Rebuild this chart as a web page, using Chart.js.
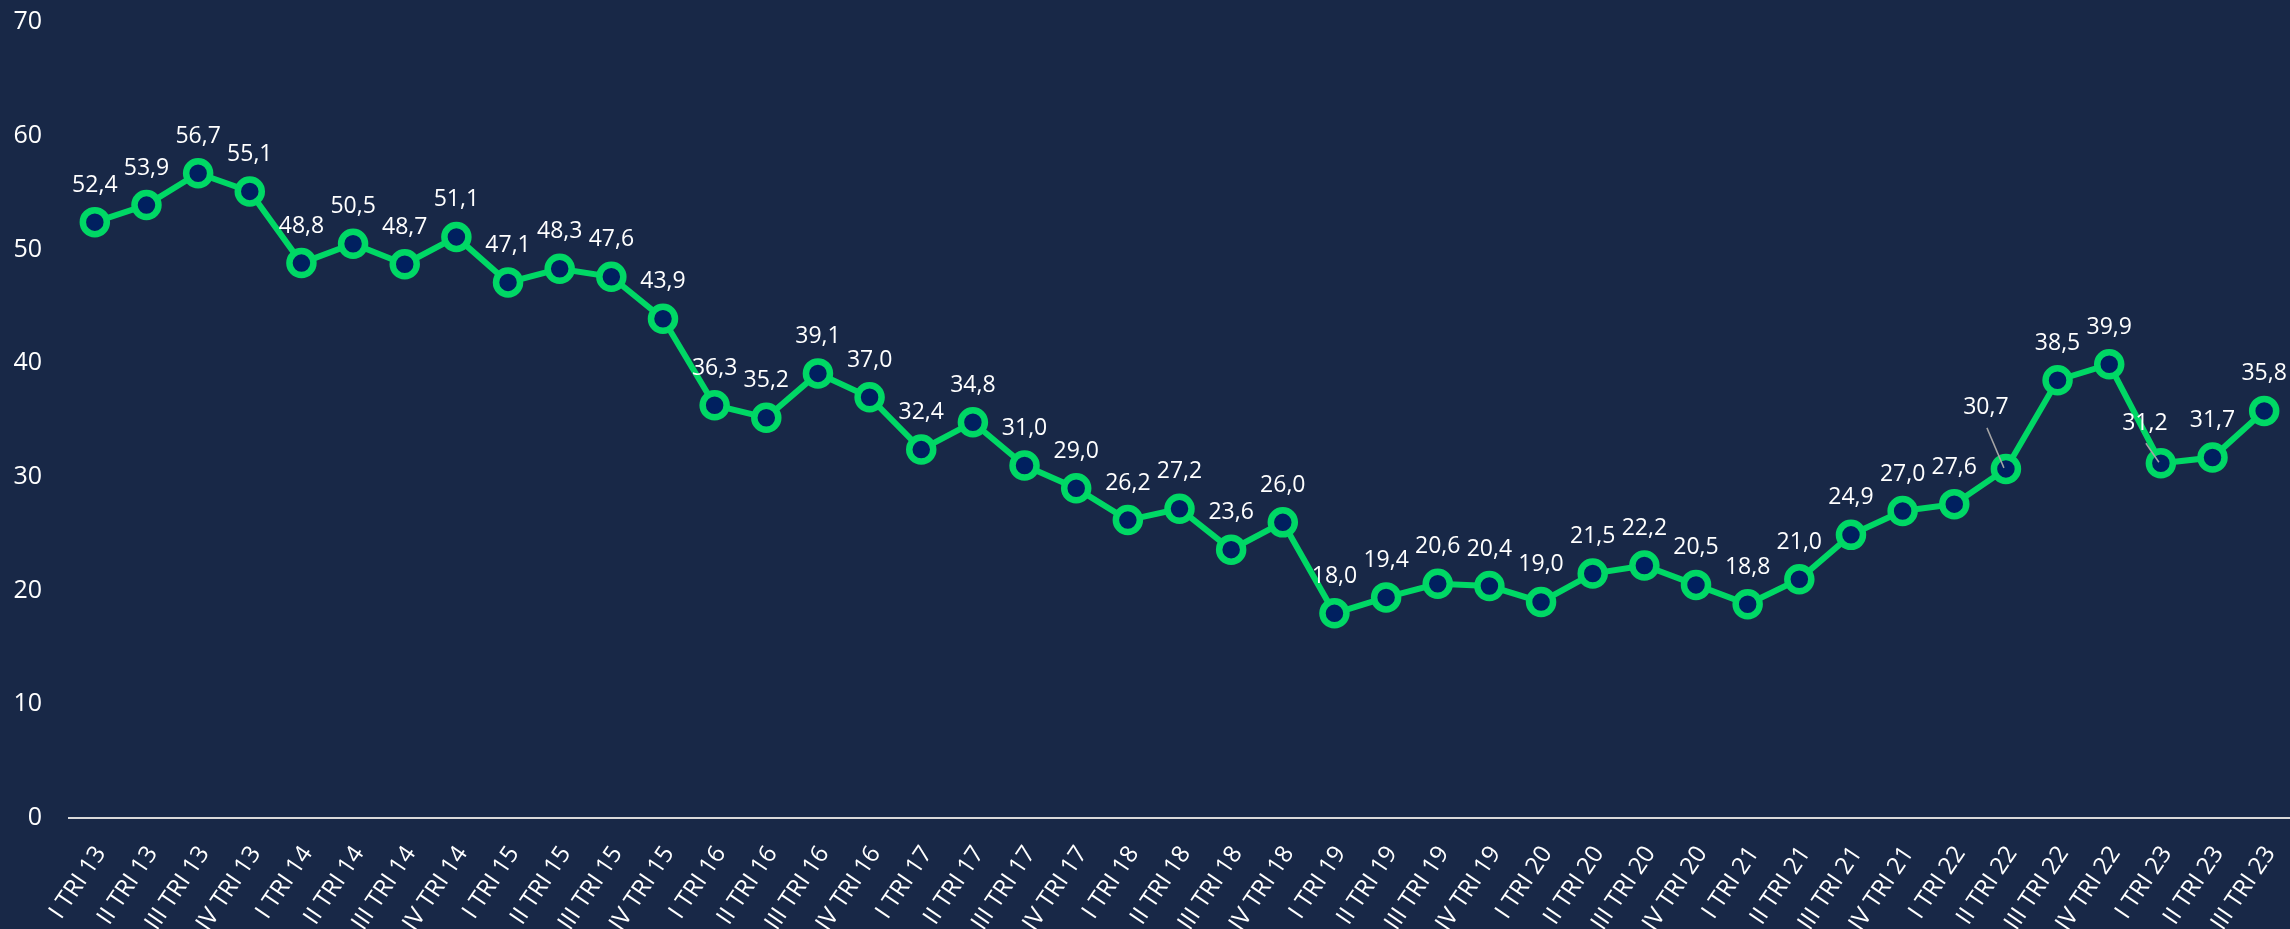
<!DOCTYPE html>
<html>
<head>
<meta charset="utf-8">
<script src="https://cdn.jsdelivr.net/npm/chart.js@4.4.1/dist/chart.umd.min.js"></script>
<style>
  html, body { margin: 0; padding: 0; background: #182847; }
  #wrap { width: 2290px; height: 929px; }
</style>
</head>
<body>
<div id="wrap"><canvas id="c" width="2290" height="929"></canvas></div>
<script>
const categories = [
  "I TRI 13","II TRI 13","III TRI 13","IV TRI 13",
  "I TRI 14","II TRI 14","III TRI 14","IV TRI 14",
  "I TRI 15","II TRI 15","III TRI 15","IV TRI 15",
  "I TRI 16","II TRI 16","III TRI 16","IV TRI 16",
  "I TRI 17","II TRI 17","III TRI 17","IV TRI 17",
  "I TRI 18","II TRI 18","III TRI 18","IV TRI 18",
  "I TRI 19","II TRI 19","III TRI 19","IV TRI 19",
  "I TRI 20","II TRI 20","III TRI 20","IV TRI 20",
  "I TRI 21","II TRI 21","III TRI 21","IV TRI 21",
  "I TRI 22","II TRI 22","III TRI 22","IV TRI 22",
  "I TRI 23","II TRI 23","III TRI 23"
];
const values = [
  52.4, 53.9, 56.7, 55.1,
  48.8, 50.5, 48.7, 51.1,
  47.1, 48.3, 47.6, 43.9,
  36.3, 35.2, 39.1, 37.0,
  32.4, 34.8, 31.0, 29.0,
  26.2, 27.2, 23.6, 26.0,
  18.0, 19.4, 20.6, 20.4,
  19.0, 21.5, 22.2, 20.5,
  18.8, 21.0, 24.9, 27.0,
  27.6, 30.7, 38.5, 39.9,
  31.2, 31.7, 35.8
];
const yMin = 0;
const yMax = 70;
const yStep = 10;

const BG = '#182847';
const GREEN = '#00d865';
const DARK = '#002060';
const FONT = "'Open Sans', 'Noto Sans', sans-serif";

function fmt(v) { return v.toFixed(1).replace('.', ','); }

const bgPlugin = {
  id: 'bg',
  beforeDraw(chart) {
    const ctx = chart.ctx;
    ctx.save();
    ctx.fillStyle = BG;
    ctx.fillRect(0, 0, chart.width, chart.height);
    ctx.restore();
  }
};

const labelPlugin = {
  id: 'valueLabels',
  afterDatasetsDraw(chart, args, opts) {
    const ctx = chart.ctx;
    const meta = chart.getDatasetMeta(0);
    const ds = chart.data.datasets[0].data;
    ctx.save();
    ctx.font = opts.font;
    ctx.fillStyle = '#ffffff';
    ctx.textAlign = 'center';
    ctx.textBaseline = 'middle';
    meta.data.forEach((pt, i) => {
      const tw = (opts.tweaks && opts.tweaks[i]) || null;
      const dx = tw ? tw.dx : 0;
      const dy = tw ? tw.dy : -opts.offset;
      const lx = pt.x + dx;
      const ly = pt.y + dy;
      if (tw && tw.leader) {
        ctx.save();
        ctx.strokeStyle = '#a6a6a6';
        ctx.lineWidth = 1.5;
        ctx.beginPath();
        ctx.moveTo(lx + 1, ly + 20);
        ctx.lineTo(pt.x - 2, pt.y - 1);
        ctx.stroke();
        ctx.restore();
      }
      ctx.fillText(fmt(ds[i]), lx, ly);
    });
    ctx.restore();
  }
};

new Chart(document.getElementById('c'), {
  type: 'line',
  data: {
    labels: categories,
    datasets: [{
      data: values,
      borderColor: GREEN,
      borderWidth: 6,
      pointRadius: 12,
      pointBorderWidth: 6.5,
      pointBackgroundColor: DARK,
      pointBorderColor: GREEN,
      tension: 0,
      clip: false
    }]
  },
  options: {
    responsive: false,
    animation: false,
    devicePixelRatio: 1,
    layout: { autoPadding: false, padding: { top: 22, right: 0, left: 0, bottom: 0 } },
    plugins: {
      legend: { display: false },
      tooltip: { enabled: false },
      valueLabels: {
        font: "23px " + FONT,
        offset: 37,
        tweaks: {
          37: { dx: -20, dy: -61, leader: true },
          40: { dx: -16, dy: -40, leader: true }
        }
      }
    },
    scales: {
      x: {
        offset: true,
        grid: { display: false, drawTicks: false },
        border: { display: true, color: '#d9d9d9', width: 2 },
        ticks: {
          color: '#ffffff',
          font: { family: FONT, size: 24 },
          autoSkip: false,
          minRotation: 56,
          maxRotation: 56,
          padding: 23,
          labelOffset: 6
        },
        afterFit(scale) {
          scale.height = 111;
          scale.paddingLeft = 0;
          scale.paddingRight = 0;
        }
      },
      y: {
        min: yMin,
        max: yMax,
        grid: { display: false, drawTicks: false },
        border: { display: false },
        ticks: {
          stepSize: yStep,
          color: '#ffffff',
          font: { family: FONT, size: 25 },
          padding: 27
        },
        afterFit(scale) {
          scale.width = 69;
          scale.paddingTop = 0;
          scale.paddingBottom = 0;
        }
      }
    }
  },
  plugins: [bgPlugin, labelPlugin]
});
</script>
</body>
</html>
